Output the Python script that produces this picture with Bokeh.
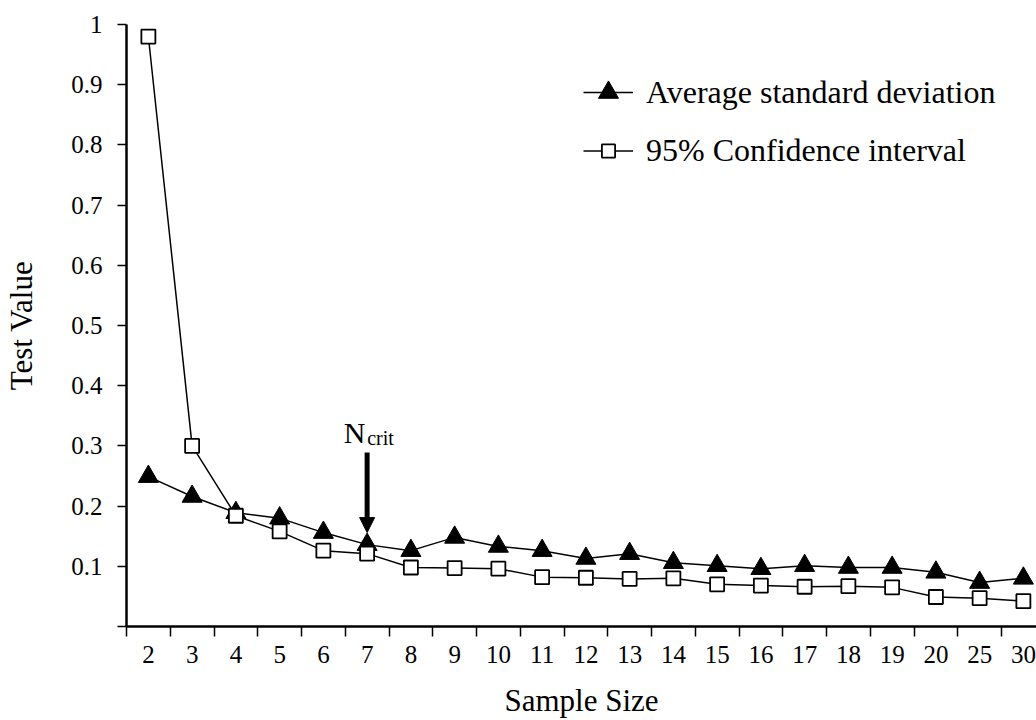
from bokeh.plotting import figure
from bokeh.models import (Range1d, FixedTicker, Legend, LegendItem, Arrow, NormalHead)
from bokeh.core.properties import value
from bokeh.embed import file_html
from bokeh.resources import INLINE

# ---- data ----
categories = ["2", "3", "4", "5", "6", "7", "8", "9", "10", "11", "12", "13",
              "14", "15", "16", "17", "18", "19", "20", "25", "30"]
avg_std = [0.249, 0.216, 0.189, 0.180, 0.156, 0.136, 0.126, 0.148, 0.133, 0.126,
           0.113, 0.121, 0.106, 0.101, 0.096, 0.101, 0.098, 0.098, 0.090, 0.073, 0.080]
conf_95 = [0.980, 0.300, 0.184, 0.158, 0.126, 0.121, 0.098, 0.097, 0.096, 0.082,
           0.081, 0.079, 0.080, 0.070, 0.068, 0.066, 0.067, 0.065, 0.049, 0.047, 0.042]
y_ticks = [0.0, 0.1, 0.2, 0.3, 0.4, 0.5, 0.6, 0.7, 0.8, 0.9, 1.0]
series_labels = ["Average standard deviation", "95% Confidence interval"]
ncrit_category = "7"
arrow_top, arrow_tip = 0.289, 0.156
ncrit_text_y = 0.322

FONT = "Liberation Serif"
xs = list(range(len(categories)))

p = figure(width=1036, height=720, output_backend="svg", toolbar_location=None,
           x_range=Range1d(-0.5, 20.3), y_range=Range1d(0, 1),
           min_border_left=126, min_border_right=0, min_border_top=24, min_border_bottom=94)
p.background_fill_color = "white"
p.border_fill_color = "white"
p.outline_line_color = None
p.xgrid.visible = False
p.ygrid.visible = False

# lines and markers
l1 = p.line(xs, avg_std, line_color="black", line_width=1.5)
m1 = p.scatter(xs, avg_std, marker="triangle", size=20, fill_color="black", line_color="black")
l2 = p.line(xs, conf_95, line_color="black", line_width=1.5)
m2 = p.scatter(xs, conf_95, marker="square", size=14, fill_color="white", line_color="black", line_width=1.8)

# axes
xa = p.xaxis[0]
xa.ticker = FixedTicker(ticks=xs, minor_ticks=[i - 0.5 for i in range(len(categories) + 1)])
xa.major_label_overrides = {i: c for i, c in enumerate(categories)}
xa.major_tick_line_color = None
xa.minor_tick_line_color = "black"
xa.minor_tick_line_width = 1.5
xa.minor_tick_out = 10
xa.minor_tick_in = 0
xa.major_tick_out = 10
xa.major_tick_in = 0
xa.major_label_standoff = 9
xa.axis_label = "Sample Size"
xa.axis_label_standoff = 17

ya = p.yaxis[0]
ya.ticker = FixedTicker(ticks=y_ticks)
ya.major_label_overrides = {0: "", 1: "1"}
ya.major_tick_out = 9
ya.major_tick_in = 0
ya.major_tick_line_width = 1.5
ya.minor_tick_line_color = None
ya.major_label_standoff = 15
ya.axis_label = "Test Value"
ya.axis_label_standoff = 29

for ax in (xa, ya):
    ax.axis_line_width = 2.5
    ax.axis_line_color = "black"
    ax.major_label_text_font = FONT
    ax.major_label_text_font_size = "25px"
    ax.major_label_text_color = "black"
    ax.axis_label_text_font = FONT
    ax.axis_label_text_font_size = "31px"
    ax.axis_label_text_font_style = "normal"
    ax.axis_label_text_color = "black"

# N_crit annotation
xi = categories.index(ncrit_category)
p.add_layout(Arrow(x_start=xi, y_start=arrow_top, x_end=xi, y_end=arrow_tip,
                   line_width=5, line_color="black",
                   end=NormalHead(size=15, fill_color="black", line_color="black", line_width=1)))
p.text([xi], [ncrit_text_y], text=["N"], text_font=value(FONT), text_font_size="30px",
       text_align="left", text_baseline="alphabetic", x_offset=-23.5, text_color="black")
p.text([xi], [ncrit_text_y], text=["crit"], text_font=value(FONT), text_font_size="20px",
       text_align="left", text_baseline="alphabetic", x_offset=0, y_offset=5, text_color="black")

# legends
def make_legend(label, rends, gh, loc):
    lg = Legend(items=[LegendItem(label=label, renderers=rends)], location=loc,
                glyph_width=50, glyph_height=gh, label_height=gh, label_standoff=13,
                padding=0, margin=0, spacing=0, border_line_color=None,
                background_fill_alpha=0, label_text_font=FONT,
                label_text_font_size="32px", label_text_color="black")
    p.add_layout(lg, "center")

make_legend(series_labels[0], [l1, m1], 50, (457, 509))
make_legend(series_labels[1], [l2, m2], 33, (457, 457))

open("out.html", "w").write(file_html(p, INLINE))
